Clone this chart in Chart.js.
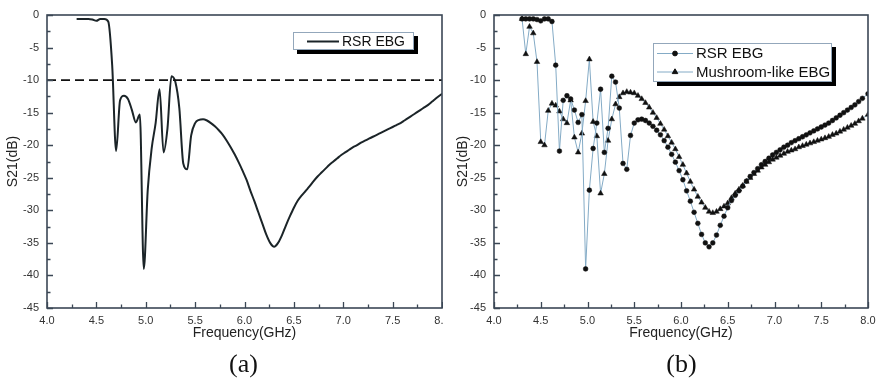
<!DOCTYPE html>
<html><head><meta charset="utf-8">
<script src="https://cdn.jsdelivr.net/npm/chart.js@4.4.1/dist/chart.umd.min.js"></script>
<style>
html,body{margin:0;padding:0;background:#fff;}
body{width:880px;height:381px;position:relative;overflow:hidden;}
#wa{position:absolute;left:0;top:0;width:443px;height:381px;overflow:hidden;}
#wb{position:absolute;left:443px;top:0;width:437px;height:381px;}
canvas{position:absolute;left:0;top:0;}
.cap{position:absolute;top:349px;width:80px;text-align:center;font-family:"Liberation Serif","Times New Roman",serif;font-size:26px;line-height:30px;color:#111;}
</style></head><body>
<div id="wa"><canvas id="ca" width="480" height="381"></canvas></div>
<div id="wb"><canvas id="cb" width="437" height="381"></canvas></div>
<div class="cap" style="left:203.5px">(a)</div>
<div class="cap" style="left:641.5px">(b)</div>
<script>
// ---------------- data ----------------
const freq = [
  4.30,4.34,4.38,4.42,4.46,4.50,4.54,4.58,4.62,4.66,
  4.70,4.74,4.78,4.82,4.86,4.90,4.94,4.98,5.02,5.06,
  5.10,5.14,5.18,5.22,5.26,5.30,5.34,5.38,5.42,5.46,
  5.50,5.54,5.58,5.62,5.66,5.70,5.74,5.78,5.82,5.86,
  5.90,5.94,5.98,6.02,6.06,6.10,6.14,6.18,6.22,6.26,
  6.30,6.34,6.38,6.42,6.46,6.50,6.54,6.58,6.62,6.66,
  6.70,6.74,6.78,6.82,6.86,6.90,6.94,6.98,7.02,7.06,
  7.10,7.14,7.18,7.22,7.26,7.30,7.34,7.38,7.42,7.46,
  7.50,7.54,7.58,7.62,7.66,7.70,7.74,7.78,7.82,7.86,
  7.90,7.94,8.00
];
const rsrEBG = [
  -0.6,-0.6,-0.6,-0.6,-0.7,-0.9,-0.6,-0.6,-1.0,-7.7,
  -20.9,-13.1,-12.4,-12.9,-14.6,-16.5,-15.3,-39.0,-26.9,-20.5,
  -16.6,-11.4,-21.1,-17.4,-9.4,-10.3,-14.3,-22.8,-23.7,-18.5,
  -16.6,-16.1,-16.0,-16.2,-16.6,-17.1,-17.7,-18.4,-19.3,-20.3,
  -21.4,-22.6,-23.9,-25.3,-27.0,-28.6,-30.3,-32.0,-33.7,-35.0,
  -35.6,-35.0,-33.8,-32.3,-30.9,-29.6,-28.5,-27.7,-27.0,-26.3,
  -25.5,-24.8,-24.2,-23.6,-23.0,-22.5,-22.0,-21.5,-21.1,-20.7,
  -20.3,-20.0,-19.6,-19.3,-19.0,-18.7,-18.4,-18.1,-17.8,-17.5,
  -17.2,-16.9,-16.6,-16.2,-15.8,-15.4,-15.0,-14.6,-14.2,-13.8,
  -13.3,-12.8,-12.1
];
const mushroomEBG = [
  -0.6,-6.0,-1.8,-2.8,-7.2,-19.5,-20.0,-14.7,-13.6,-13.9,
  -14.8,-16.0,-16.6,-13.1,-18.8,-21.1,-18.2,-13.2,-6.8,-16.4,
  -18.6,-27.4,-24.4,-19.3,-16.0,-13.7,-12.6,-12.0,-11.8,-11.9,
  -12.0,-12.4,-12.9,-13.5,-14.2,-15.0,-15.8,-16.7,-17.6,-18.6,
  -19.6,-20.6,-21.8,-23.0,-24.3,-25.6,-26.8,-27.9,-28.8,-29.6,
  -30.2,-30.4,-30.2,-29.8,-29.4,-28.9,-28.1,-27.4,-26.8,-26.2,
  -25.6,-25.0,-24.4,-23.9,-23.4,-23.0,-22.6,-22.2,-21.9,-21.6,
  -21.3,-21.0,-20.8,-20.6,-20.3,-20.1,-19.9,-19.7,-19.5,-19.3,
  -19.1,-18.9,-18.7,-18.4,-18.2,-17.9,-17.6,-17.3,-17.0,-16.7,
  -16.3,-15.9,-15.3
];
const threshold = -10;
const seriesNames = ['RSR EBG', 'Mushroom-like EBG'];
const xTickValues = [4.0,4.5,5.0,5.5,6.0,6.5,7.0,7.5,8.0];
const xTickLabels = ['4.0','4.5','5.0','5.5','6.0','6.5','7.0','7.5','8.0'];
const yTickValues = [-45,-40,-35,-30,-25,-20,-15,-10,-5,0];
const yTickLabels = ['-45','-40','-35','-30','-25','-20','-15','-10','-5','0'];
const xTitle = 'Frequency(GHz)';
const yTitle = 'S21(dB)';

// ---------------- styling ----------------
const FONT = '"Liberation Sans", Arial, sans-serif';
const FRAME = '#3b4755';
const LINE_B = '#84abc6';

const pts = arr => freq.map((f, i) => ({x: f, y: arr[i]}));

const deco = {
  id: 'deco',
  afterDatasetsDraw(chart, args, o) {
    const {ctx, chartArea: a, scales: {x, y}} = chart;
    ctx.save();
    // ticks (inward)
    ctx.strokeStyle = FRAME; ctx.lineWidth = 1.3;
    ctx.beginPath();
    const xv = x.ticks.map(t => t.value), yv = y.ticks.map(t => t.value);
    xv.forEach((v, i) => {
      const p = Math.round(x.getPixelForValue(v)) + 0.5;
      ctx.moveTo(p, a.bottom); ctx.lineTo(p, a.bottom - 6);
      if (i < xv.length - 1) {
        const m = Math.round(x.getPixelForValue((v + xv[i + 1]) / 2)) + 0.5;
        ctx.moveTo(m, a.bottom); ctx.lineTo(m, a.bottom - 3.5);
      }
    });
    yv.forEach((v, i) => {
      const p = Math.round(y.getPixelForValue(v)) + 0.5;
      ctx.moveTo(a.left, p); ctx.lineTo(a.left + 6, p);
      if (i < yv.length - 1) {
        const m = Math.round(y.getPixelForValue((v + yv[i + 1]) / 2)) + 0.5;
        ctx.moveTo(a.left, m); ctx.lineTo(a.left + 3.5, m);
      }
    });
    ctx.stroke();
    // frame
    ctx.lineWidth = 1.6;
    ctx.strokeRect(a.left, a.top, a.right - a.left, a.bottom - a.top);
    // legend
    const L = o.legend;
    const items = chart.data.datasets.filter(d => d.label);
    ctx.fillStyle = '#000';
    ctx.fillRect(L.x + 4, L.y + 4, L.w, L.h);
    ctx.fillStyle = '#fff';
    ctx.fillRect(L.x, L.y, L.w, L.h);
    ctx.strokeStyle = '#93a7bb'; ctx.lineWidth = 1;
    ctx.strokeRect(L.x + 0.5, L.y + 0.5, L.w - 1, L.h - 1);
    items.forEach((d, i) => {
      const yy = L.y + L.firstY + i * L.rowH;
      ctx.strokeStyle = d.borderColor; ctx.lineWidth = d.borderWidth;
      ctx.beginPath(); ctx.moveTo(L.x + L.lineX0, yy); ctx.lineTo(L.x + L.lineX1, yy); ctx.stroke();
      if (d.pointRadius > 0) {
        ctx.fillStyle = d.pointBackgroundColor; ctx.strokeStyle = d.pointBorderColor; ctx.lineWidth = 1;
        Chart.helpers.drawPoint(ctx, {pointStyle: d.pointStyle, radius: d.pointRadius, rotation: 0, borderWidth: 1},
          L.x + (L.lineX0 + L.lineX1) / 2, yy);
      }
      ctx.fillStyle = '#111';
      ctx.font = L.fontSize + 'px ' + FONT;
      ctx.textBaseline = 'middle'; ctx.textAlign = 'left';
      ctx.fillText(d.label, L.x + L.textX, yy + 0.5);
    });
    ctx.restore();
  }
};

function makeChart(canvas, datasets, g) {
  return new Chart(canvas, {
    type: 'line',
    data: {datasets},
    options: {
      responsive: false, animation: false, events: [],
      layout: {padding: {left: 0, top: 15, right: g.padRight, bottom: 0}},
      plugins: {legend: {display: false}, tooltip: {enabled: false}, deco: g},
      scales: {
        x: {
          type: 'linear', min: 4, max: 8,
          afterBuildTicks: s => { s.ticks = xTickValues.map(v => ({value: v})); },
          afterFit: s => { s.height = 73; s.paddingLeft = 0; s.paddingRight = 0; },
          grid: {display: false, drawTicks: false}, border: {display: false},
          ticks: {font: {family: FONT, size: 11}, color: '#333', padding: 6, maxRotation: 0, autoSkip: false,
                  callback: (v, i) => xTickLabels[i]},
          title: {display: true, text: xTitle, font: {family: FONT, size: 14}, color: '#222',
                  padding: {top: 0, bottom: 39}}
        },
        y: {
          type: 'linear', min: -45, max: 0,
          afterBuildTicks: s => { s.ticks = yTickValues.map(v => ({value: v})); },
          afterFit: s => { s.width = g.yW; s.paddingTop = 0; s.paddingBottom = 0; },
          grid: {display: false, drawTicks: false}, border: {display: false},
          ticks: {font: {family: FONT, size: 11}, color: '#333', padding: 8, autoSkip: false,
                  callback: (v, i) => yTickLabels[i]},
          title: {display: true, text: yTitle, font: {family: FONT, size: 14}, color: '#222',
                  padding: {top: g.yTitlePad, bottom: 0}}
        }
      }
    },
    plugins: [deco]
  });
}

// (a)
makeChart(document.getElementById('ca'), [
  {label: '', data: [{x: 4, y: threshold}, {x: 8, y: threshold}], borderColor: '#111', borderWidth: 1.8,
   borderDash: [9, 5], pointRadius: 0, fill: false},
  {label: seriesNames[0], data: pts(rsrEBG), borderColor: '#1b2428', borderWidth: 2, pointRadius: 0,
   cubicInterpolationMode: 'monotone', fill: false}
], {padRight: 38, yW: 47, yTitlePad: 5,
    legend: {x: 293, y: 32, w: 121, h: 18, firstY: 9.5, rowH: 18, lineX0: 14, lineX1: 46, textX: 49, fontSize: 14}});

// (b)
makeChart(document.getElementById('cb'), [
  {label: seriesNames[0], data: pts(rsrEBG), borderColor: LINE_B, borderWidth: 1, pointRadius: 2.4,
   pointStyle: 'circle', pointBackgroundColor: '#111', pointBorderColor: '#111', pointBorderWidth: 0.5, tension: 0, fill: false},
  {label: seriesNames[1], data: pts(mushroomEBG), borderColor: LINE_B, borderWidth: 1, pointRadius: 3.2,
   pointStyle: 'triangle', pointBackgroundColor: '#111', pointBorderColor: '#111', pointBorderWidth: 0.5, tension: 0, fill: false}
], {padRight: 12, yW: 51, yTitlePad: 11.6,
    legend: {x: 210, y: 43, w: 179, h: 39, firstY: 10.5, rowH: 18.5, lineX0: 4, lineX1: 40, textX: 43, fontSize: 15}});
</script>
</body></html>
